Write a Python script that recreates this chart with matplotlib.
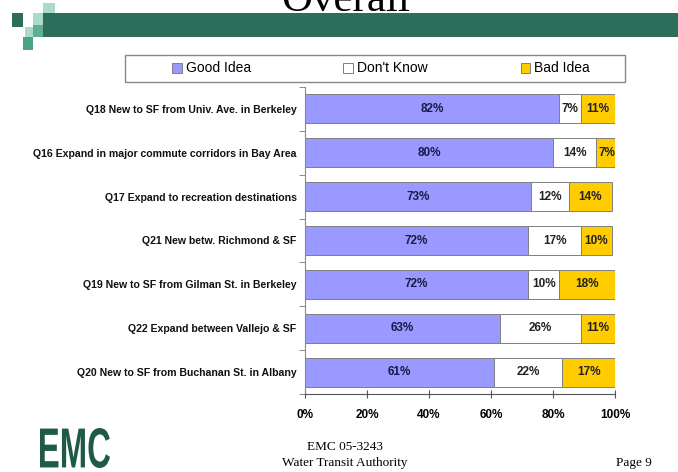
import numpy as np
import matplotlib.pyplot as plt
from matplotlib.patches import Rectangle, PathPatch
from matplotlib.textpath import TextPath
from matplotlib.font_manager import FontProperties
from matplotlib.transforms import Affine2D

# данные с картинки
questions = ['Q18 New to SF from Univ. Ave. in Berkeley',
             'Q16 Expand in major commute corridors in Bay Area',
             'Q17 Expand to recreation destinations',
             'Q21 New betw. Richmond & SF',
             'Q19 New to SF from Gilman St. in Berkeley',
             'Q22 Expand between Vallejo & SF',
             'Q20 New to SF from Buchanan St. in Albany']
good = [82, 80, 73, 72, 72, 63, 61]
dont_know = [7, 14, 12, 17, 10, 26, 22]
bad = [11, 7, 14, 10, 18, 11, 17]
series_names = ['Good Idea', "Don't Know", 'Bad Idea']
xticks = [0, 20, 40, 60, 80, 100]

W, H = 678, 472
fig = plt.figure(figsize=(W / 100, H / 100), dpi=100)
fig.patch.set_facecolor('white')

sans = ['Liberation Sans', 'DejaVu Sans']
serif = ['Liberation Serif', 'DejaVu Serif']

def px(x, y):
    # пиксели картинки -> координаты фигуры
    return x / W, 1 - y / H

# шапка: полоса и квадратики
band_col = '#2d6e5b'
fig.patches.append(Rectangle(px(43, 37), (W - 43) / W, 24 / H, transform=fig.transFigure,
                             facecolor=band_col, edgecolor='none'))
squares = [(12, 13, 11, 14, '#2d6e5b'), (43, 3, 12, 10, '#a8dcc8'),
           (33, 13, 10, 12, '#a8dcc8'), (25, 27, 8, 10, '#a8dcc8'),
           (33, 25, 10, 12, '#5fae92'), (23, 37, 10, 13, '#4ba585')]
for sx, sy, sw, sh, c in squares:
    fig.patches.append(Rectangle(px(sx, sy + sh), sw / W, sh / H, transform=fig.transFigure,
                                 facecolor=c, edgecolor='none'))

fig.text(*px(346, 11), 'Overall', ha='center', va='baseline', fontsize=31,
         family=serif, color='black')

ax = fig.add_axes([305 / W, 78 / H, 310 / W, 307 / H])
y = np.arange(len(questions))
good_a = np.array(good)
dk_a = np.array(dont_know)
bad_a = np.array(bad)
h = 0.66
b1 = ax.barh(y, good_a, height=h, color='#9999ff', edgecolor='#7f7f7f', lw=0.7, label=series_names[0])
b2 = ax.barh(y, dk_a, left=good_a, height=h, color='white', edgecolor='#7f7f7f', lw=0.7, label=series_names[1])
b3 = ax.barh(y, bad_a, left=good_a + dk_a, height=h, color='#ffcc00', edgecolor='#7f7f7f', lw=0.7, label=series_names[2])

for i in range(len(questions)):
    ax.text(good_a[i] / 2, y[i], f'{good_a[i]}%', ha='center', va='center',
            fontsize=8.5, fontweight='bold', family=sans, color='#1a1a4a')
    ax.text(good_a[i] + dk_a[i] / 2, y[i], f'{dk_a[i]}%', ha='center', va='center',
            fontsize=8.5, fontweight='bold', family=sans, color='#222222')
    ax.text(good_a[i] + dk_a[i] + bad_a[i] / 2, y[i], f'{bad_a[i]}%', ha='center', va='center',
            fontsize=8.5, fontweight='bold', family=sans, color='#222222')

ax.set_xlim(0, 100)
ax.set_ylim(len(questions) - 0.5, -0.5)
ax.set_xticks(xticks)
ax.set_xticklabels([f'{t}%' for t in xticks], fontsize=8.5, fontweight='bold', family=sans)
ax.set_yticks(y)
ax.set_yticklabels(questions, fontsize=7.6, fontweight='bold', family=sans, color='#111111')
ax.set_yticks(np.arange(-0.5, len(questions), 1), minor=True)
ax.tick_params(axis='y', which='major', length=0, pad=6)
ax.tick_params(axis='y', which='minor', length=4, color='#777777')
ax.tick_params(axis='x', direction='inout', length=6, color='#555555', pad=8)
for s in ['top', 'right']:
    ax.spines[s].set_visible(False)
ax.spines['left'].set_color('#888888')
ax.spines['bottom'].set_color('#555555')

# рамка легенды отдельно, сама легенда без рамки
fig.patches.append(Rectangle(px(125, 82), 500 / W, 27 / H, transform=fig.transFigure,
                             facecolor='white', edgecolor='#888888', lw=1.0))
leg = fig.legend(handles=[b1, b2, b3], loc='center', ncol=3, mode='expand',
                 bbox_to_anchor=(160 / W, 1 - 82 / H, 442 / W, 27 / H),
                 frameon=False, handlelength=0.7, handleheight=0.7,
                 handletextpad=0.3, borderpad=0.35, prop={'family': sans, 'size': 10})

# логотип EMC, сжатый по ширине
tp = TextPath((0, 0), 'EMC', size=40, prop=FontProperties(family=sans, weight='bold'))
bb = tp.get_extents()
sx = 70 / bb.width
sy = 40 / bb.height
tr = Affine2D().translate(-bb.x0, -bb.y0).scale(sx, sy).translate(40, H - 468)
logo = PathPatch(tr.transform_path(tp), facecolor='#1f5a47', edgecolor='none',
                 transform=None)
fig.patches.append(logo)

fig.text(*px(345, 447), 'EMC 05-3243', ha='center', va='center', fontsize=9.5, family=serif)
fig.text(*px(345, 463), 'Water Transit Authority', ha='center', va='center', fontsize=9.5, family=serif)
fig.text(*px(634, 463), 'Page 9', ha='center', va='center', fontsize=9.5, family=serif)

fig.savefig('out.png', dpi=100)
